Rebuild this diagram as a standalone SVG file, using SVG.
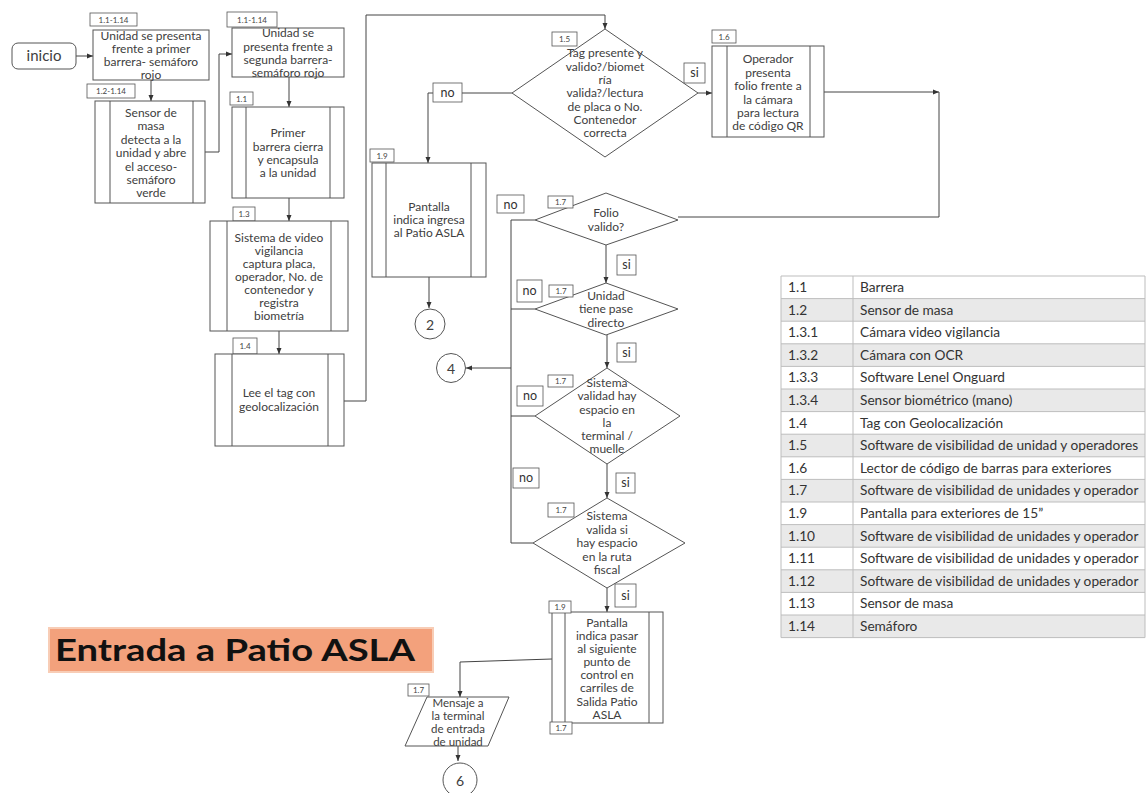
<svg xmlns="http://www.w3.org/2000/svg" width="1146" height="793" viewBox="0 0 1146 793">
<defs>
<marker id="ah" markerWidth="6" markerHeight="6" refX="6" refY="3" orient="auto" markerUnits="userSpaceOnUse">
<path d="M0,0.5 L6,3 L0,5.5 z" fill="#333"/>
</marker>
<style>
.box{fill:#fff;stroke:#555;stroke-width:1}
.bar{stroke:#555;stroke-width:1;fill:none}
.t{font-family:Lato,"Liberation Sans",sans-serif;font-size:12px;fill:#404040;text-anchor:middle}
.lb{fill:#fff;stroke:#555;stroke-width:0.8}
.lt{font-family:Lato,"Liberation Sans",sans-serif;font-size:8px;fill:#444;text-anchor:middle}
.yn{font-family:Lato,"Liberation Sans",sans-serif;font-size:12.5px;fill:#333;text-anchor:middle}
.c{fill:none;stroke:#444;stroke-width:1;marker-end:url(#ah)}
.l{fill:none;stroke:#444;stroke-width:1}
.tb{font-family:Lato,"Liberation Sans",sans-serif;font-size:13.7px;fill:#333}
.rw{fill:#fff}
.rg{fill:#e9e9e9}
.tl{stroke:#bdbdbd;stroke-width:1;fill:none}
</style>
</defs>
<rect width="1146" height="793" fill="#fff"/>

<g id="connectors">
<path class="c" d="M76,56 H93"/>
<path class="c" d="M151,80 V101"/>
<path class="c" d="M205,152 H219 V54 H232"/>
<path class="c" d="M289,77 V107"/>
<path class="c" d="M289,198 V221"/>
<path class="c" d="M279,331 V354"/>
<path class="c" d="M344,401 H366 V15 H605 V29"/>
<path class="c" d="M512,93 H428 V163"/>
<path class="c" d="M698,93 H712"/>
<path class="c" d="M824,92 H939"/>
<path class="l" d="M939,92 V217 H678"/>
<path class="c" d="M429,277 V308"/>
<path class="c" d="M606,245 V283"/>
<path class="c" d="M607,335 V368"/>
<path class="c" d="M607,464 V498"/>
<path class="c" d="M607,588 V612"/>
<path class="l" d="M535,220 H511 V543 H533"/>
<path class="l" d="M535,309 H511"/>
<path class="l" d="M535,416 H511"/>
<path class="c" d="M511,368 H466"/>
<path class="c" d="M552,659 L460,662 V697"/>
<path class="c" d="M458,746 V761"/>
</g>

<g id="inicio">
<rect x="12" y="43" width="64" height="26" rx="6" class="box"/>
<text x="44" y="61" class="t" style="font-size:15px">inicio</text>
</g>

<g id="nodeA">
<rect x="93" y="30" width="116" height="50" class="box"/>
<rect x="90" y="13" width="47" height="13" class="lb"/>
<text x="113.5" y="22.5" class="lt">1.1-1.14</text>
<text class="t"><tspan x="151" y="40">Unidad se presenta</tspan><tspan x="151" y="53">frente a primer</tspan><tspan x="151" y="66">barrera- semáforo</tspan><tspan x="151" y="79">rojo</tspan></text>
</g>

<g id="nodeB">
<rect x="87" y="84" width="48" height="14" class="lb"/>
<text x="111" y="94" class="lt">1.2-1.14</text>
<rect x="95" y="101" width="110" height="102" class="box"/>
<path class="bar" d="M110,101 V203 M193,101 V203"/>
<text class="t"><tspan x="151" y="117">Sensor de</tspan><tspan x="151" y="130">masa</tspan><tspan x="151" y="144">detecta a la</tspan><tspan x="151" y="157">unidad y abre</tspan><tspan x="151" y="171">el acceso-</tspan><tspan x="151" y="184">semáforo</tspan><tspan x="151" y="197">verde</tspan></text>
</g>

<g id="nodeC">
<rect x="232" y="28" width="112" height="49" class="box"/>
<rect x="227" y="12" width="50" height="15" class="lb"/>
<text x="252" y="22.5" class="lt">1.1-1.14</text>
<text class="t"><tspan x="288" y="37">Unidad se</tspan><tspan x="288" y="51">presenta frente a</tspan><tspan x="288" y="64">segunda barrera-</tspan><tspan x="288" y="77">semáforo rojo</tspan></text>
</g>

<g id="nodeD">
<rect x="230" y="92" width="23" height="13" class="lb"/>
<text x="241.5" y="101.5" class="lt">1.1</text>
<rect x="232" y="107" width="112" height="91" class="box"/>
<path class="bar" d="M246,107 V198 M330,107 V198"/>
<text class="t"><tspan x="288" y="137">Primer</tspan><tspan x="288" y="151">barrera cierra</tspan><tspan x="288" y="164">y encapsula</tspan><tspan x="288" y="177">a la unidad</tspan></text>
</g>

<g id="nodeE">
<rect x="233" y="207" width="22" height="14" class="lb"/>
<text x="244" y="217" class="lt">1.3</text>
<rect x="210" y="221" width="138" height="110" class="box"/>
<path class="bar" d="M227,221 V331 M331,221 V331"/>
<text class="t"><tspan x="279" y="242">Sistema de video</tspan><tspan x="279" y="255">vigilancia</tspan><tspan x="279" y="268">captura placa,</tspan><tspan x="279" y="281">operador, No. de</tspan><tspan x="279" y="294">contenedor y</tspan><tspan x="279" y="307">registra</tspan><tspan x="279" y="320">biometría</tspan></text>
</g>

<g id="nodeF">
<rect x="233" y="338" width="24" height="16" class="lb"/>
<text x="245" y="349" class="lt">1.4</text>
<rect x="215" y="354" width="129" height="92" class="box"/>
<path class="bar" d="M232,354 V446 M328,354 V446"/>
<text class="t"><tspan x="279" y="397">Lee el tag con</tspan><tspan x="279" y="411">geolocalización</tspan></text>
</g>

<g id="nodeG">
<polygon points="605,29 698,93 605,157 512,93" class="box"/>
<rect x="552" y="32" width="25" height="14" class="lb"/>
<text x="564.5" y="42" class="lt">1.5</text>
<text class="t"><tspan x="605" y="57">Tag presente y</tspan><tspan x="605" y="71">valido?/biomet</tspan><tspan x="605" y="84">ría</tspan><tspan x="605" y="97">valida?/lectura</tspan><tspan x="605" y="111">de placa o No.</tspan><tspan x="605" y="124">Contenedor</tspan><tspan x="605" y="137">correcta</tspan></text>
<rect x="433" y="83" width="29" height="19" class="lb"/>
<text x="447.5" y="97" class="yn">no</text>
<rect x="684" y="63" width="21" height="20" class="lb"/>
<text x="694.5" y="77" class="yn">si</text>
</g>

<g id="nodeI">
<rect x="712" y="30" width="24" height="13" class="lb"/>
<text x="724" y="39.5" class="lt">1.6</text>
<rect x="712" y="46" width="112" height="91" class="box"/>
<path class="bar" d="M727,46 V137 M810,46 V137"/>
<text class="t"><tspan x="768" y="63">Operador</tspan><tspan x="768" y="77">presenta</tspan><tspan x="768" y="90">folio frente a</tspan><tspan x="768" y="104">la cámara</tspan><tspan x="768" y="117">para lectura</tspan><tspan x="768" y="130">de código QR</tspan></text>
</g>

<g id="nodeH">
<rect x="370" y="149" width="24" height="13" class="lb"/>
<text x="382" y="158.5" class="lt">1.9</text>
<rect x="372" y="163" width="114" height="114" class="box"/>
<path class="bar" d="M386,163 V277 M471,163 V277"/>
<text class="t"><tspan x="429" y="211">Pantalla</tspan><tspan x="429" y="224">indica ingresa</tspan><tspan x="429" y="237">al Patio ASLA</tspan></text>
</g>

<g id="circle2">
<circle cx="430" cy="324" r="15" class="box"/>
<text x="430" y="329.5" class="t" style="font-size:14px">2</text>
</g>

<g id="circle4">
<circle cx="451" cy="368" r="14.5" class="box"/>
<text x="451" y="373.5" class="t" style="font-size:14px">4</text>
</g>

<g id="nodeJ">
<polygon points="606,193 678,220 606,245 535,220" class="box"/>
<rect x="548" y="196" width="25" height="12" class="lb"/>
<text x="560.5" y="205" class="lt">1.7</text>
<text class="t"><tspan x="606" y="217">Folio</tspan><tspan x="606" y="231">valido?</tspan></text>
<rect x="497" y="195" width="27" height="18" class="lb"/>
<text x="510.5" y="208.5" class="yn">no</text>
<rect x="617" y="255" width="19" height="20" class="lb"/>
<text x="626.5" y="269" class="yn">si</text>
</g>

<g id="nodeK">
<polygon points="606,283 678,309 606,335 535,309" class="box"/>
<rect x="549" y="285" width="24" height="12" class="lb"/>
<text x="561" y="294" class="lt">1.7</text>
<text class="t"><tspan x="606" y="300">Unidad</tspan><tspan x="606" y="313">tiene pase</tspan><tspan x="606" y="327">directo</tspan></text>
<rect x="517" y="280" width="25" height="22" class="lb"/>
<text x="529.5" y="295" class="yn">no</text>
<rect x="617" y="343" width="19" height="19" class="lb"/>
<text x="626.5" y="357" class="yn">si</text>
</g>

<g id="nodeL">
<polygon points="607,368 680,416 607,464 535,416" class="box"/>
<rect x="548" y="375" width="25" height="12" class="lb"/>
<text x="560.5" y="384" class="lt">1.7</text>
<text class="t"><tspan x="607" y="387">Sistema</tspan><tspan x="607" y="400">validad hay</tspan><tspan x="607" y="414">espacio en</tspan><tspan x="607" y="427">la</tspan><tspan x="607" y="440">terminal /</tspan><tspan x="607" y="453">muelle</tspan></text>
<rect x="517" y="386" width="26" height="20" class="lb"/>
<text x="530" y="400" class="yn">no</text>
<rect x="513" y="468" width="26" height="20" class="lb"/>
<text x="526" y="482" class="yn">no</text>
<rect x="616" y="473" width="19" height="20" class="lb"/>
<text x="625.5" y="487" class="yn">si</text>
</g>

<g id="nodeM">
<polygon points="607,498 685,543 607,588 533,543" class="box"/>
<rect x="548" y="503" width="26" height="14" class="lb"/>
<text x="561" y="513" class="lt">1.7</text>
<text class="t"><tspan x="607" y="520">Sistema</tspan><tspan x="607" y="534">valida si</tspan><tspan x="607" y="547">hay espacio</tspan><tspan x="607" y="561">en la ruta</tspan><tspan x="607" y="574">fiscal</tspan></text>
<rect x="615" y="584" width="21" height="23" class="lb"/>
<text x="625.5" y="600" class="yn">si</text>
</g>

<g id="nodeN">
<rect x="552" y="612" width="111" height="111" class="box"/>
<path class="bar" d="M565,612 V723 M649,612 V723"/>
<rect x="549" y="601" width="22" height="12" class="lb"/>
<text x="560" y="610" class="lt">1.9</text>
<rect x="550" y="722" width="22" height="12" class="lb"/>
<text x="561" y="731" class="lt">1.7</text>
<text class="t"><tspan x="607" y="627">Pantalla</tspan><tspan x="607" y="640">indica pasar</tspan><tspan x="607" y="653">al siguiente</tspan><tspan x="607" y="666">punto de</tspan><tspan x="607" y="679">control en</tspan><tspan x="607" y="692">carriles de</tspan><tspan x="607" y="706">Salida Patio</tspan><tspan x="607" y="719">ASLA</tspan></text>
</g>

<g id="nodeO">
<rect x="408" y="684" width="21" height="12" class="lb"/>
<text x="418.5" y="693" class="lt">1.7</text>
<polygon points="427,697 509,697 488,746 405,746" class="box"/>
<text class="t" style="font-size:11.5px"><tspan x="458" y="707">Mensaje a</tspan><tspan x="458" y="720">la terminal</tspan><tspan x="458" y="733">de entrada</tspan><tspan x="458" y="746">de unidad</tspan></text>
</g>

<g id="circle6">
<circle cx="460" cy="780" r="17" class="box"/>
<text x="460" y="785.5" class="t" style="font-size:14px">6</text>
</g>

<g id="title">
<rect x="49" y="628" width="384" height="44" fill="#F3A17C" stroke="#F8CDB6" stroke-width="2"/>
<text x="55" y="661" font-family="Lato,'Liberation Sans',sans-serif" font-weight="bold" font-size="31" fill="#111" textLength="360" lengthAdjust="spacingAndGlyphs">Entrada a Patio ASLA</text>
</g>

<g id="legend">
<rect x="781" y="276" width="364" height="22.6" class="rw"/>
<rect x="781" y="298.6" width="364" height="22.6" class="rg"/>
<rect x="781" y="321.2" width="364" height="22.6" class="rw"/>
<rect x="781" y="343.8" width="364" height="22.6" class="rg"/>
<rect x="781" y="366.4" width="364" height="22.6" class="rw"/>
<rect x="781" y="389" width="364" height="22.6" class="rg"/>
<rect x="781" y="411.6" width="364" height="22.6" class="rw"/>
<rect x="781" y="434.2" width="364" height="22.6" class="rg"/>
<rect x="781" y="456.8" width="364" height="22.6" class="rw"/>
<rect x="781" y="479.4" width="364" height="22.6" class="rg"/>
<rect x="781" y="502" width="364" height="22.6" class="rw"/>
<rect x="781" y="524.6" width="364" height="22.6" class="rg"/>
<rect x="781" y="547.2" width="364" height="22.6" class="rw"/>
<rect x="781" y="569.8" width="364" height="22.6" class="rg"/>
<rect x="781" y="592.4" width="364" height="22.6" class="rw"/>
<rect x="781" y="615" width="364" height="22.6" class="rg"/>
<path class="tl" d="M781,276 H1145 V637.6 H781 Z M853,276 V637.6 M781,298.6 H1145 M781,321.2 H1145 M781,343.8 H1145 M781,366.4 H1145 M781,389 H1145 M781,411.6 H1145 M781,434.2 H1145 M781,456.8 H1145 M781,479.4 H1145 M781,502 H1145 M781,524.6 H1145 M781,547.2 H1145 M781,569.8 H1145 M781,592.4 H1145 M781,615 H1145"/>
<text class="tb"><tspan x="788" y="292">1.1</tspan><tspan x="788" y="314.6">1.2</tspan><tspan x="788" y="337.2">1.3.1</tspan><tspan x="788" y="359.8">1.3.2</tspan><tspan x="788" y="382.4">1.3.3</tspan><tspan x="788" y="405">1.3.4</tspan><tspan x="788" y="427.6">1.4</tspan><tspan x="788" y="450.2">1.5</tspan><tspan x="788" y="472.8">1.6</tspan><tspan x="788" y="495.4">1.7</tspan><tspan x="788" y="518">1.9</tspan><tspan x="788" y="540.6">1.10</tspan><tspan x="788" y="563.2">1.11</tspan><tspan x="788" y="585.8">1.12</tspan><tspan x="788" y="608.4">1.13</tspan><tspan x="788" y="631">1.14</tspan></text>
<text class="tb"><tspan x="860" y="292">Barrera</tspan><tspan x="860" y="314.6">Sensor de masa</tspan><tspan x="860" y="337.2">Cámara video vigilancia</tspan><tspan x="860" y="359.8">Cámara con OCR</tspan><tspan x="860" y="382.4">Software Lenel Onguard</tspan><tspan x="860" y="405">Sensor biométrico (mano)</tspan><tspan x="860" y="427.6">Tag con Geolocalización</tspan><tspan x="860" y="450.2">Software de visibilidad de unidad y operadores</tspan><tspan x="860" y="472.8">Lector de código de barras para exteriores</tspan><tspan x="860" y="495.4">Software de visibilidad de unidades y operador</tspan><tspan x="860" y="518">Pantalla para exteriores de 15”</tspan><tspan x="860" y="540.6">Software de visibilidad de unidades y operador</tspan><tspan x="860" y="563.2">Software de visibilidad de unidades y operador</tspan><tspan x="860" y="585.8">Software de visibilidad de unidades y operador</tspan><tspan x="860" y="608.4">Sensor de masa</tspan><tspan x="860" y="631">Semáforo</tspan></text>
</g>
</svg>
